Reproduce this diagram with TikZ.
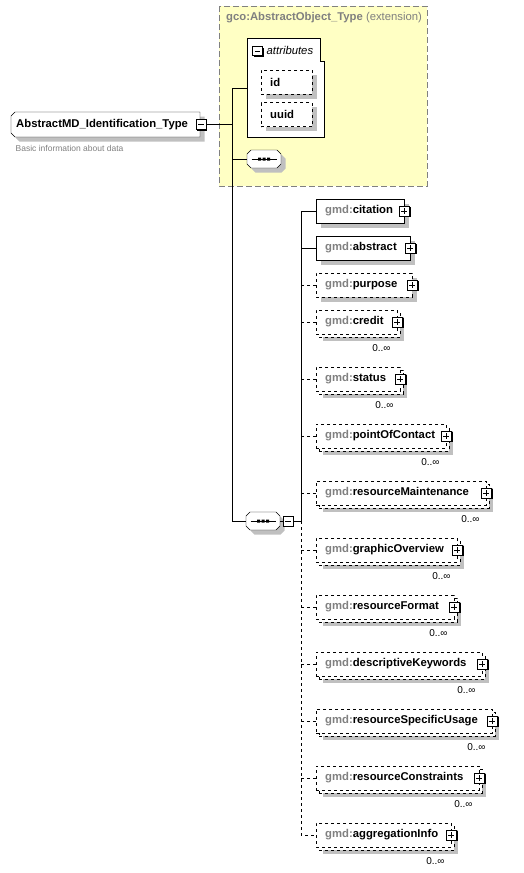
\documentclass[tikz,border=0pt]{standalone}
\usepackage{fontspec}
\setmainfont{Liberation Sans}
\usepackage{tikz}
\usetikzlibrary{shadows}
\usepackage{xcolor}

\definecolor{shadegray}{HTML}{C0C0C0}
\definecolor{extyellow}{HTML}{FFFFC4}
\definecolor{pfxgray}{HTML}{808080}
\newcommand{\pfx}[1]{\textcolor{pfxgray}{#1}}
% octagon with shadow: x1,y1,x2,y2
\newcommand{\seqshape}[4]{%
	\fill[shadegray,shift={(4.5,4.5)}] (#1+4,#2) -- (#3-4,#2) -- (#3,#2+4) -- (#3,#4-4) -- (#3-4,#4) -- (#1+4,#4) -- (#1,#4-4) -- (#1,#2+4) -- cycle;
	\draw[fill=white] (#1+4,#2) -- (#3-4,#2) -- (#3,#2+4) -- (#3,#4-4) -- (#3-4,#4) -- (#1+4,#4) -- (#1,#4-4) -- (#1,#2+4) -- cycle;}
\hyphenpenalty=10000
\exhyphenpenalty=10000

\begin{document}
\begin{tikzpicture}[x=1pt,y=-1pt,
	every node/.style={font=\fontsize{11.3}{13}\selectfont\bfseries},
	shade/.style={drop shadow={fill=shadegray,opacity=1,shadow xshift=4.5pt,shadow yshift=-4.5pt}},
	elem/.style={draw,fill=white,anchor=west,minimum height=24pt,inner xsep=9pt,inner ysep=0pt,align=left,shade},
	optelem/.style={elem,dashed},
	multelem/.style={draw,dashed,fill=white,anchor=west,minimum height=24pt,inner xsep=9pt,inner ysep=0pt,align=left,
		drop shadow={fill=shadegray,opacity=1,shadow xshift=7pt,shadow yshift=-7pt},
		copy shadow={fill=white,draw=black,dashed,opacity=1,shadow xshift=3pt,shadow yshift=-3pt},
		append after command={\pgfextra{\draw[solid,fill=white] ([shift={(-13,3)}]\tikzlastnode.south east) -- ++(3,3) -- ++(3,-3);}}},
	mult/.style={font=\fontsize{10}{12}\selectfont,inner sep=0pt},
	plusbox/.style={draw,fill=white,minimum size=10pt,inner sep=0pt,line width=0.8pt,
		drop shadow={fill=black,opacity=1,shadow xshift=1.3pt,shadow yshift=-1.3pt},
		path picture={\draw[line width=0.9pt] ([xshift=2pt]path picture bounding box.west) -- ([xshift=-2pt]path picture bounding box.east)
			([yshift=-2pt]path picture bounding box.north) -- ([yshift=2pt]path picture bounding box.south);}},
	minusbox/.style={draw,fill=white,minimum size=10pt,inner sep=0pt,line width=0.8pt,
		drop shadow={fill=black,opacity=1,shadow xshift=1.3pt,shadow yshift=-1.3pt},
		path picture={\draw[line width=0.9pt] ([xshift=2pt]path picture bounding box.west) -- ([xshift=-2pt]path picture bounding box.east);}},
	seq/.style={minimum width=34pt,minimum height=18pt,inner sep=0pt}]
	\useasboundingbox (0,0) rectangle (524,873);

	% extension area
	\draw[draw=pfxgray,fill=extyellow,dash pattern=on 6pt off 3pt] (219,6) rectangle (427,186);
	\node[anchor=west,inner sep=0pt] (ext) at (226,18) {\pfx{gco:AbstractObject\_Type} \textcolor{pfxgray}{\mdseries(extension)}};

	% attributes
	\draw[fill=white] (247,38) -- (320,38) -- (320,61) -- (324,61) -- (324,137) -- (247,137) -- cycle;
	\coordinate (attrL) at (247,88);
	\node[minusbox,minimum size=9.5pt] (attrm) at (257.5,51) {};
	\node[anchor=west,inner sep=0pt,font=\fontsize{11.3}{13}\selectfont\itshape] (attrt) at (266.5,50) {attributes};
	\node[optelem,minimum width=51pt,text width=33pt] (id) at (261,82) {id};
	\node[optelem,minimum width=51pt,text width=33pt] (uuid) at (261,114.5) {uuid};

	% type
	\fill[shadegray,shift={(4.5,4.5)}] (15,112) -- (200,112) -- (200,137) -- (15,137) -- (11,133) -- (11,116) -- cycle;
	\draw[fill=white] (15,112) -- (200,112) -- (200,137) -- (15,137) -- (11,133) -- (11,116) -- cycle;
	\node[anchor=west,minimum width=189pt,minimum height=25pt,inner xsep=5pt,inner ysep=0pt,text width=179pt,align=left]
		(typ) at (11,124.5) {AbstractMD\_Identification\_Type};
	\node[minusbox] (typm) at (201,124.5) {};
	\node[anchor=west,inner sep=0pt,font=\fontsize{8.5}{10}\selectfont,text=pfxgray] (desc) at (15.5,148) {Basic information about data};

	% sequences
	\seqshape{247}{150}{281}{168}
	\node[seq] (seqA) at (264,159) {};
	\draw (seqA.center) ++(-12.5,0) -- ++(25,0);
	\fill ([shift={(-6,-1.5)}]seqA.center) rectangle ++(3,3) ([shift={(-1.5,-1.5)}]seqA.center) rectangle ++(3,3)
		([shift={(3,-1.5)}]seqA.center) rectangle ++(3,3);
	\seqshape{246}{512}{280}{530}
	\node[seq] (seqB) at (263,521) {};
	\draw (seqB.center) ++(-12.5,0) -- ++(25,0);
	\fill ([shift={(-6,-1.5)}]seqB.center) rectangle ++(3,3) ([shift={(-1.5,-1.5)}]seqB.center) rectangle ++(3,3)
		([shift={(3,-1.5)}]seqB.center) rectangle ++(3,3);
	\node[minusbox] (seqBm) at (288,521) {};

	\coordinate (j) at (232,124.5);
	\draw (typm.east) -- (j);
	\draw (attrL) -| (j);
	\draw (j) |- (seqB.west);
	\draw (seqA.west) -- (seqA.west -| j);
	\draw (seqB.east) -- (seqBm.west);

	% children
	\node[elem,minimum width=88pt,text width=70pt] (citation) at (316,211) {\pfx{gmd:}citation};
	\node[plusbox] (citationp) at (citation.east) {};
	\node[elem,minimum width=94pt,text width=76pt] (abstract) at (316,248) {\pfx{gmd:}abstract};
	\node[plusbox] (abstractp) at (abstract.east) {};
	\node[optelem,minimum width=96pt,text width=78pt] (purpose) at (316,285) {\pfx{gmd:}purpose};
	\node[plusbox] (purposep) at (purpose.east) {};
	\node[multelem,minimum width=81pt,text width=63pt] (credit) at (316,322) {\pfx{gmd:}credit};
	\node[plusbox] (creditp) at (credit.east) {};
	\node[mult] (creditm) at ([shift={(-16,14)}]credit.south east) {0..∞};
	\node[multelem,minimum width=84pt,text width=66pt] (status) at (316,379) {\pfx{gmd:}status};
	\node[plusbox] (statusp) at (status.east) {};
	\node[mult] (statusm) at ([shift={(-16,14)}]status.south east) {0..∞};
	\node[multelem,minimum width=130pt,text width=112pt] (contact) at (316,436) {\pfx{gmd:}pointOfContact};
	\node[plusbox] (contactp) at (contact.east) {};
	\node[mult] (contactm) at ([shift={(-16,14)}]contact.south east) {0..∞};
	\node[multelem,minimum width=170pt,text width=152pt] (maint) at (316,493) {\pfx{gmd:}resourceMaintenance};
	\node[plusbox] (maintp) at (maint.east) {};
	\node[mult] (maintm) at ([shift={(-16,14)}]maint.south east) {0..∞};
	\node[multelem,minimum width=141pt,text width=123pt] (graphic) at (316,550) {\pfx{gmd:}graphicOverview};
	\node[plusbox] (graphicp) at (graphic.east) {};
	\node[mult] (graphicm) at ([shift={(-16,14)}]graphic.south east) {0..∞};
	\node[multelem,minimum width=138pt,text width=120pt] (format) at (316,607) {\pfx{gmd:}resourceFormat};
	\node[plusbox] (formatp) at (format.east) {};
	\node[mult] (formatm) at ([shift={(-16,14)}]format.south east) {0..∞};
	\node[multelem,minimum width=166pt,text width=148pt] (keywords) at (316,664) {\pfx{gmd:}descriptiveKeywords};
	\node[plusbox] (keywordsp) at (keywords.east) {};
	\node[mult] (keywordsm) at ([shift={(-16,14)}]keywords.south east) {0..∞};
	\node[multelem,minimum width=176pt,text width=158pt] (usage) at (316,721) {\pfx{gmd:}resourceSpecificUsage};
	\node[plusbox] (usagep) at (usage.east) {};
	\node[mult] (usagem) at ([shift={(-16,14)}]usage.south east) {0..∞};
	\node[multelem,minimum width=163pt,text width=145pt] (constr) at (316,778) {\pfx{gmd:}resourceConstraints};
	\node[plusbox] (constrp) at (constr.east) {};
	\node[mult] (constrm) at ([shift={(-16,14)}]constr.south east) {0..∞};
	\node[multelem,minimum width=135pt,text width=117pt] (aggr) at (316,835) {\pfx{gmd:}aggregationInfo};
	\node[plusbox] (aggrp) at (aggr.east) {};
	\node[mult] (aggrm) at ([shift={(-16,14)}]aggr.south east) {0..∞};

	\coordinate (k) at (301,521);
	\draw (seqBm.east) -- (k);
	\draw (citation.west) -| (k);
	\draw (abstract.west) -- (abstract.west -| k);
	\draw[dashed] (purpose.west) -- (purpose.west -| k);
	\draw[dashed] (credit.west) -- (credit.west -| k);
	\draw[dashed] (status.west) -- (status.west -| k);
	\draw[dashed] (contact.west) -- (contact.west -| k);
	\draw[dashed] (maint.west) -- (maint.west -| k);
	\draw[dashed] (graphic.west) -- (graphic.west -| k);
	\draw[dashed] (format.west) -- (format.west -| k);
	\draw[dashed] (keywords.west) -- (keywords.west -| k);
	\draw[dashed] (usage.west) -- (usage.west -| k);
	\draw[dashed] (constr.west) -- (constr.west -| k);
	\draw[dashed] (k) |- (aggr.west);
\end{tikzpicture}
\end{document}
